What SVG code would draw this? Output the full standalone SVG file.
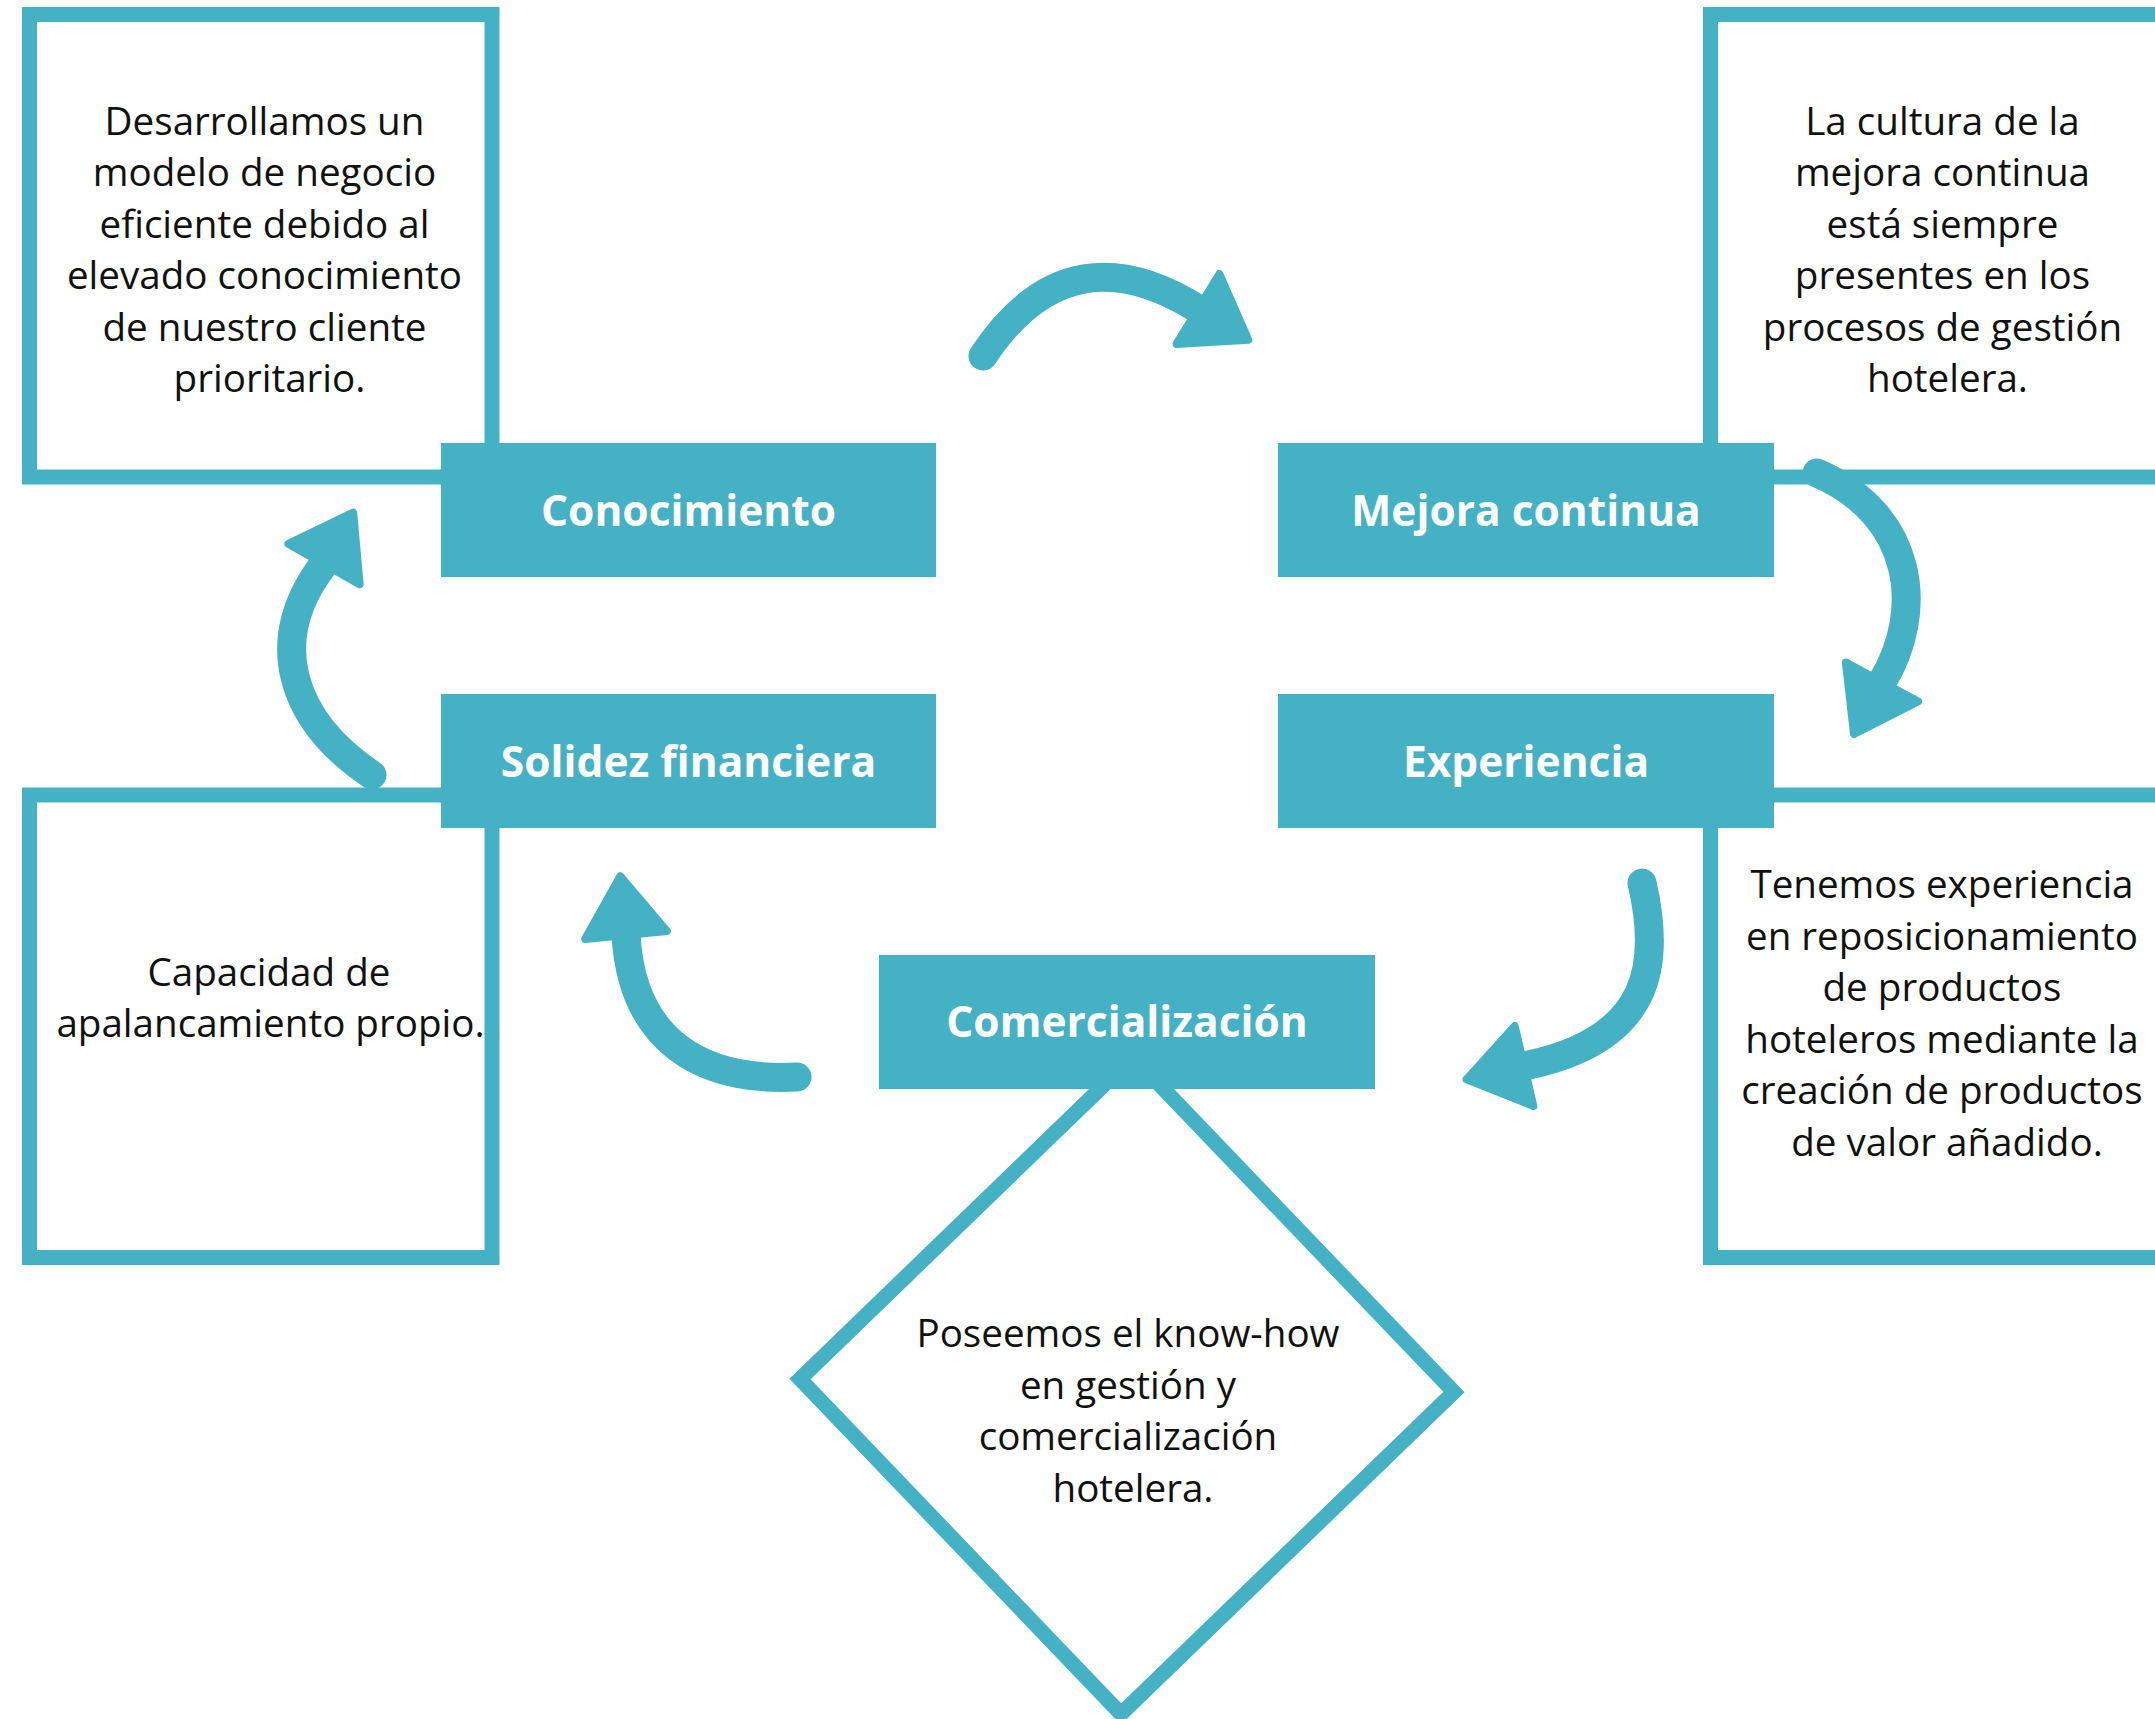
<svg xmlns="http://www.w3.org/2000/svg" xmlns:xlink="http://www.w3.org/1999/xlink" width="2155" height="1719" viewBox="0 0 2155 1719">
  <style>
    .box { fill: #ffffff; stroke: #44B1C4; stroke-width: 15; }
    .title-bg { fill: #44B1C4; }
    .title { font-family: "Open Sans", "Liberation Sans", sans-serif; font-weight: bold; font-size: 42.5px; fill: #ffffff; text-anchor: middle; }
    .body { font-family: "Open Sans", "Liberation Sans", sans-serif; font-size: 38.6px; fill: #111111; text-anchor: middle; }
    .shaft { fill: none; stroke: #44B1C4; stroke-width: 29; stroke-linecap: round; }
  </style>
  <defs>
    <path id="ah" d="M0,-41 L59,0 L0,41 Z" fill="#44B1C4" stroke="#44B1C4" stroke-width="8" stroke-linejoin="round"/>
  </defs>
  <rect width="2155" height="1719" fill="#ffffff"/>

  <g id="box-conocimiento">
    <rect class="box" x="29.5" y="14.5" width="462.5" height="462.5"/>
    <text class="body">
      <tspan x="269.5" y="134.7">Desarrollamos un</tspan>
      <tspan x="269.5" y="186.3">modelo de negocio</tspan>
      <tspan x="269.5" y="237.8">eficiente debido al</tspan>
      <tspan x="269.5" y="289.3">elevado conocimiento</tspan>
      <tspan x="269.5" y="340.8">de nuestro cliente</tspan>
      <tspan x="269.5" y="392.3">prioritario.</tspan>
    </text>
  </g>

  <g id="box-mejora">
    <rect class="box" x="1710.5" y="14.5" width="480" height="462.5"/>
    <text class="body">
      <tspan x="1947.5" y="134.7">La cultura de la</tspan>
      <tspan x="1947.5" y="186.3">mejora continua</tspan>
      <tspan x="1947.5" y="237.8">está siempre</tspan>
      <tspan x="1947.5" y="289.3">presentes en los</tspan>
      <tspan x="1947.5" y="340.8">procesos de gestión</tspan>
      <tspan x="1947.5" y="392.3">hotelera.</tspan>
    </text>
  </g>

  <g id="box-solidez">
    <rect class="box" x="29.5" y="795" width="462.5" height="462.5"/>
    <text class="body">
      <tspan x="274" y="986">Capacidad de</tspan>
      <tspan x="270.5" y="1036.5">apalancamiento propio.</tspan>
    </text>
  </g>

  <g id="box-experiencia">
    <rect class="box" x="1710.5" y="795" width="480" height="462.5"/>
    <text class="body">
      <tspan x="1947" y="898">Tenemos experiencia</tspan>
      <tspan x="1947" y="949.5">en reposicionamiento</tspan>
      <tspan x="1947" y="1001">de productos</tspan>
      <tspan x="1947" y="1052.5">hoteleros mediante la</tspan>
      <tspan x="1947" y="1104">creación de productos</tspan>
      <tspan x="1947" y="1155.5">de valor añadido.</tspan>
    </text>
  </g>

  <g id="diamond-comercializacion">
    <polygon class="box" points="1133,1057 1454,1392 1121,1714 800,1379"/>
    <text class="body">
      <tspan x="1133" y="1347">Poseemos el know-how</tspan>
      <tspan x="1133" y="1398.5">en gestión y</tspan>
      <tspan x="1133" y="1450">comercialización</tspan>
      <tspan x="1133" y="1501.5">hotelera.</tspan>
    </text>
  </g>

  <g id="node-conocimiento">
    <rect class="title-bg" x="441" y="443" width="495" height="134"/>
    <text class="title" x="688.5" y="525.5">Conocimiento</text>
  </g>
  <g id="node-mejora-continua">
    <rect class="title-bg" x="1278" y="443" width="496" height="134"/>
    <text class="title" x="1526" y="525.5">Mejora continua</text>
  </g>
  <g id="node-solidez-financiera">
    <rect class="title-bg" x="441" y="694" width="495" height="134"/>
    <text class="title" x="688.5" y="776.5">Solidez financiera</text>
  </g>
  <g id="node-experiencia">
    <rect class="title-bg" x="1278" y="694" width="496" height="134"/>
    <text class="title" x="1526" y="776.5">Experiencia</text>
  </g>
  <g id="node-comercializacion">
    <rect class="title-bg" x="879" y="955" width="496" height="134"/>
    <text class="title" x="1127" y="1037">Comercialización</text>
  </g>

  <g id="connectors">
    <path class="shaft" d="M983,356 C1045,262 1120,260 1198,309"/>
    <use xlink:href="#ah" href="#ah" transform="translate(1198,309) rotate(31.5)"/>
    <path class="shaft" d="M1817,473 C1915,515 1925,612 1882,682"/>
    <use xlink:href="#ah" href="#ah" transform="translate(1882,682) rotate(118.3)"/>
    <path class="shaft" d="M1642,883 C1660,960 1655,1040 1524,1066"/>
    <use xlink:href="#ah" href="#ah" transform="translate(1524,1066) rotate(166.9)"/>
    <path class="shaft" d="M797,1077 C700,1082 632,1040 626,935"/>
    <use xlink:href="#ah" href="#ah" transform="translate(626,935) rotate(-95.5)"/>
    <path class="shaft" d="M372,775 C290,720 265,640 324,564"/>
    <use xlink:href="#ah" href="#ah" transform="translate(324,564) rotate(-60.4)"/>
  </g>
</svg>
